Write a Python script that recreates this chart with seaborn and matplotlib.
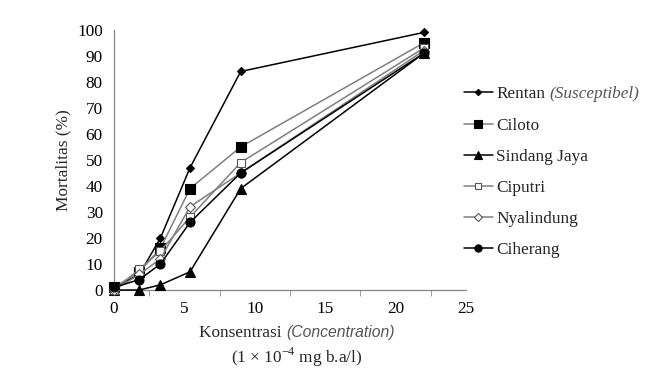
import matplotlib
matplotlib.use("Agg")
import matplotlib.pyplot as plt
import seaborn as sns
from matplotlib.lines import Line2D

# data
konsentrasi = [0, 1.8, 3.3, 5.4, 9, 22]
rentan = [1, 6, 20, 47, 84, 99]
ciloto = [1, 7, 16, 39, 55, 95]
sindang_jaya = [0, 0, 2, 7, 39, 91]
ciputri = [0, 8, 15, 28, 49, 93]
nyalindung = [0, 6, 12, 32, 45, 92]
ciherang = [1, 4, 10, 26, 45, 91]

names = ["Rentan", "Ciloto", "Sindang Jaya", "Ciputri", "Nyalindung", "Ciherang"]
series = [rentan, ciloto, sindang_jaya, ciputri, nyalindung, ciherang]

# (line colour, marker, size, face, edge)
styles = [
    ("black", "D", 4.0, "black", "black"),
    ("#7f7f7f", "s", 7.5, "black", "black"),
    ("black", "^", 7.0, "black", "black"),
    ("#7f7f7f", "s", 6.0, "white", "#555555"),
    ("#7f7f7f", "D", 5.0, "white", "#555555"),
    ("black", "o", 6.5, "black", "black"),
]

FS = 12.4

sns.set_style("white")
plt.rcParams["font.family"] = ["Liberation Serif", "DejaVu Serif"]
plt.rcParams["mathtext.fontset"] = "custom"
plt.rcParams["mathtext.rm"] = "Liberation Serif"

fig = plt.figure(figsize=(6.65, 3.73), dpi=100)
ax = fig.add_axes([0.1714, 0.2225, 0.5294, 0.6975])

for vals, (lc, m, ms, fc, ec) in zip(series, styles):
    sns.lineplot(x=konsentrasi, y=vals, ax=ax, color=lc, lw=1.1,
                 marker=m, markersize=ms, markerfacecolor=fc,
                 markeredgecolor=ec, markeredgewidth=0.8, clip_on=False, zorder=3)

ax.set_xlim(0, 25)
ax.set_ylim(0, 100)
ax.set_xticks([0, 5, 10, 15, 20, 25])
ax.set_xticks([2.5, 7.5, 12.5, 17.5, 22.5], minor=True)
ax.set_yticks(range(0, 101, 10))
for s in ["top", "right"]:
    ax.spines[s].set_visible(False)
for s in ["left", "bottom"]:
    ax.spines[s].set_color("#868686")
    ax.spines[s].set_linewidth(0.9)
ax.tick_params(axis="both", which="both", direction="out", length=4,
               color="#868686", labelsize=12.4, colors="#868686",
               labelcolor="black", pad=4)
ax.tick_params(axis="x", which="minor", length=4, bottom=True)

ax.set_ylabel("Mortalitas (%)", fontsize=FS, labelpad=4)

# legend
handles = [Line2D([], [], color=lc, lw=1.1, marker=m, markersize=ms * 0.8,
                  markerfacecolor=fc, markeredgecolor=ec, markeredgewidth=0.8)
           for lc, m, ms, fc, ec in styles]
leg = fig.legend(handles, names, loc="upper left", bbox_to_anchor=(0.674, 0.81),
                 frameon=False, fontsize=FS, handlelength=1.7, handletextpad=0.2,
                 labelspacing=0.88)

# x label pieces
fig.canvas.draw()
r = fig.canvas.get_renderer()
ylab = (373 - 333) / 373
t1 = fig.text(0.0, ylab, "Konsentrasi ", fontsize=FS, ha="left", va="center")
t2 = fig.text(0.0, ylab, "(Concentration)", fontsize=11.3, style="italic",
              family="Liberation Sans", color="#555555", ha="left", va="center")
w1 = t1.get_window_extent(r).width
w2 = t2.get_window_extent(r).width
cx = 0.446 * 665
x0 = cx - (w1 + w2) / 2
t1.set_x(x0 / 665)
t2.set_x((x0 + w1) / 665)
fig.text(0.446, (373 - 357) / 373, r"(1 × 10$^{-4}$ mg b.a/l)", fontsize=FS,
         ha="center", va="center")

# italic suffix for first legend entry
lt = leg.get_texts()[0]
bb = lt.get_window_extent(r)
fig.text((bb.x1 + 4) / 665, (bb.y0 + bb.y1) / 2 / 373, "(Susceptibel)",
         fontsize=FS, style="italic", color="#555555", ha="left", va="center")

fig.savefig("out.png", dpi=100)
